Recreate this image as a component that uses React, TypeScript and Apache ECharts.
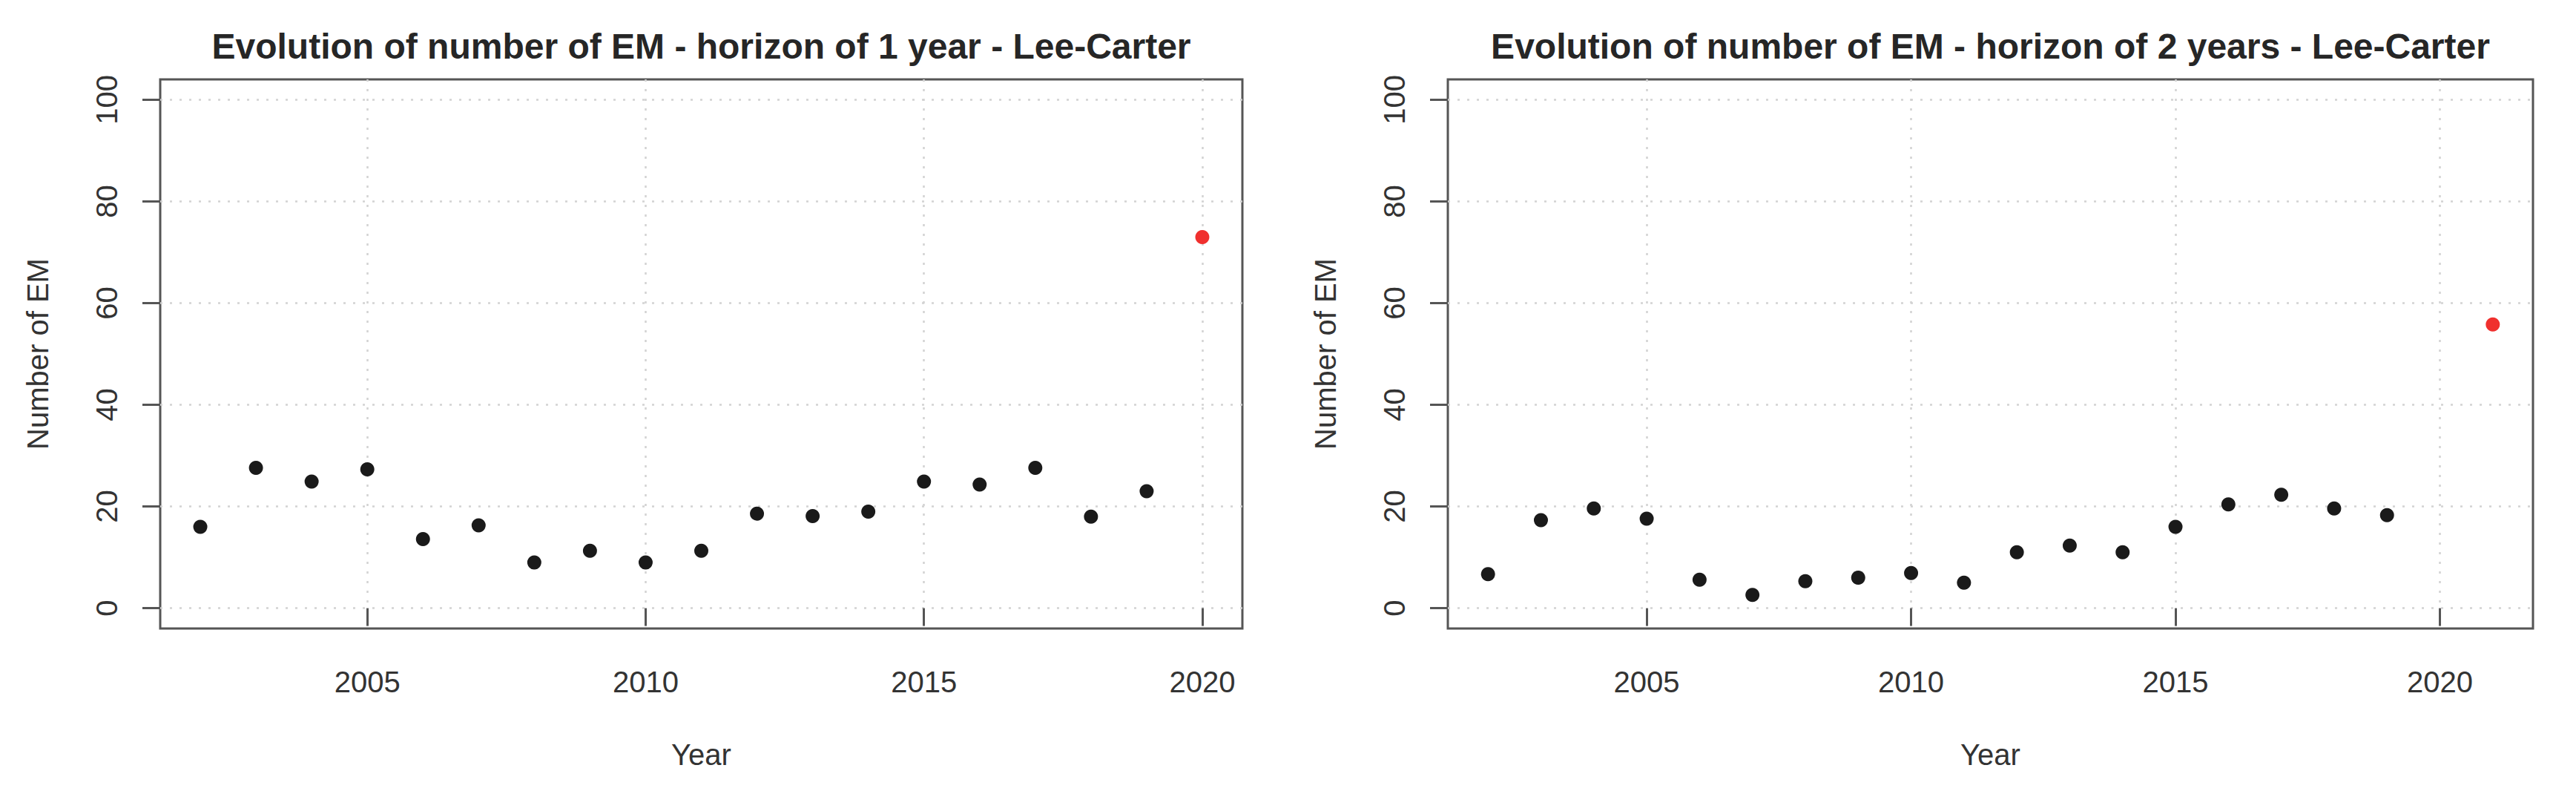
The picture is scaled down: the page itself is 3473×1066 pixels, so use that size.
import { useRef, useEffect } from "react";
import * as echarts from "echarts";

// observed years and the Lee-Carter forecast points (red)
const years1 = [2002, 2003, 2004, 2005, 2006, 2007, 2008, 2009, 2010, 2011, 2012, 2013, 2014, 2015, 2016, 2017, 2018, 2019];
const values1 = [16.0, 27.6, 24.9, 27.3, 13.6, 16.3, 9.0, 11.3, 9.0, 11.3, 18.6, 18.1, 19.0, 24.9, 24.3, 27.6, 18.0, 23.0];
const forecastYear1 = 2020;
const forecast1 = 73.0;

const years2 = [2002, 2003, 2004, 2005, 2006, 2007, 2008, 2009, 2010, 2011, 2012, 2013, 2014, 2015, 2016, 2017, 2018, 2019];
const values2 = [6.7, 17.3, 19.6, 17.6, 5.6, 2.6, 5.3, 6.0, 6.9, 5.0, 11.0, 12.3, 11.0, 16.0, 20.4, 22.3, 19.6, 18.3];
const forecastYear2 = 2021;
const forecast2 = 55.8;

const xTicks = [2005, 2010, 2015, 2020];
const yTicks = [0, 20, 40, 60, 80, 100];

const titles = [
  "Evolution of number of EM - horizon of 1 year - Lee-Carter",
  "Evolution of number of EM - horizon of 2 years - Lee-Carter",
];

const font = "'Liberation Sans', Arial, Helvetica, sans-serif";
const frameColor = "#555555";
const gridColor = "#d2d2d2";
const textColor = "#333333";

// R pads the data range by 4% on each side
const pad = (lo: number, hi: number): [number, number] => {
  const d = (hi - lo) * 0.04;
  return [lo - d, hi + d];
};

const panels = [
  { years: years1, values: values1, fy: forecastYear1, fv: forecast1, left: 216, width: 1459 },
  { years: years2, values: values2, fy: forecastYear2, fv: forecast2, left: 1952, width: 1463 },
];

const yRange = pad(0, 100);

const option = {
  animation: false,
  backgroundColor: "#ffffff",
  title: panels.map((p, i) => ({
    text: titles[i],
    left: p.left + p.width / 2,
    top: 38,
    padding: 0,
    textAlign: "center",
    textStyle: { fontFamily: font, fontSize: 48, fontWeight: "bold", color: "#262626" },
  })),
  grid: panels.map((p) => ({
    left: p.left,
    width: p.width,
    top: 107,
    height: 740,
    show: true,
    borderColor: frameColor,
    borderWidth: 3,
    backgroundColor: "transparent",
    containLabel: false,
  })),
  xAxis: panels.map((p, i) => {
    const r = pad(p.years[0], p.fy);
    return {
      type: "value",
      gridIndex: i,
      min: r[0],
      max: r[1],
      axisLine: { show: false },
      axisTick: {
        show: true,
        inside: false,
        length: 24,
        customValues: xTicks,
        lineStyle: { color: frameColor, width: 3 },
      },
      axisLabel: {
        customValues: xTicks,
        formatter: (v: number) => String(v),
        margin: 52,
        fontSize: 40,
        fontFamily: font,
        color: textColor,
      },
      splitLine: { show: true, lineStyle: { color: gridColor, width: 2.5, type: [3, 10] } },
      name: "Year",
      nameLocation: "middle",
      nameGap: 150,
      nameTextStyle: { fontSize: 40, fontFamily: font, color: textColor },
    };
  }),
  yAxis: panels.map((_, i) => ({
    type: "value",
    gridIndex: i,
    min: yRange[0],
    max: yRange[1],
    axisLine: { show: false },
    axisTick: {
      show: true,
      inside: false,
      length: 24,
      customValues: yTicks,
      lineStyle: { color: frameColor, width: 3 },
    },
    axisLabel: {
      customValues: yTicks,
      rotate: 90,
      margin: 52,
      fontSize: 40,
      fontFamily: font,
      color: textColor,
    },
    splitLine: { show: true, lineStyle: { color: gridColor, width: 2.5, type: [3, 10] } },
    name: "Number of EM",
    nameLocation: "middle",
    nameRotate: 90,
    nameGap: 145,
    nameTextStyle: { fontSize: 40, fontFamily: font, color: textColor },
  })),
  series: panels.flatMap((p, i) => [
    {
      type: "scatter",
      xAxisIndex: i,
      yAxisIndex: i,
      symbol: "circle",
      symbolSize: 19,
      itemStyle: { color: "#1a1a1a", opacity: 1 },
      data: p.years.map((y, k) => [y, p.values[k]]),
    },
    {
      type: "scatter",
      xAxisIndex: i,
      yAxisIndex: i,
      symbol: "circle",
      symbolSize: 19,
      itemStyle: { color: "#f0302e", opacity: 1 },
      data: [[p.fy, p.fv]],
    },
  ]),
};

const App = () => {
  const chartRef = useRef<HTMLDivElement>(null);

  useEffect(() => {
    document.body.style.margin = "0";
    const myChart = echarts.init(chartRef.current, null, { renderer: "svg" });
    myChart.setOption(option);
    return () => {
      myChart.dispose();
    };
  }, []);

  return <div ref={chartRef} style={{ width: "3473px", height: "1066px" }}></div>;
};

export default App;
